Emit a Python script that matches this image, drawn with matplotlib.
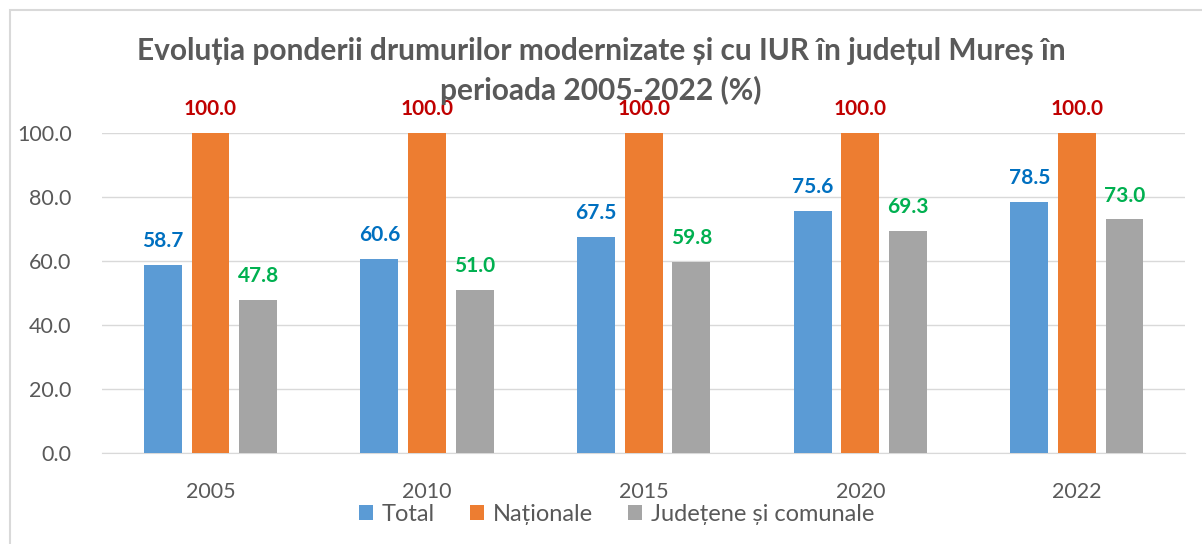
import matplotlib.pyplot as plt
import matplotlib.patches as mpatches
import numpy as np

years = ['2005', '2010', '2015', '2020', '2022']
total = [58.7, 60.6, 67.5, 75.6, 78.5]
nationale = [100.0, 100.0, 100.0, 100.0, 100.0]
judetene = [47.8, 51.0, 59.8, 69.3, 73.0]

series_names = ['Total', 'Naționale', 'Județene și comunale']
bar_colors = ['#5B9BD5', '#ED7D31', '#A5A5A5']
label_colors = ['#0070C0', '#C00000', '#00B050']

plt.rcParams['font.family'] = ['Lato', 'DejaVu Sans']
text_gray = '#595959'

fig = plt.figure(figsize=(12.02, 5.44), dpi=100)
ax = fig.add_axes([0.085, 0.167, 0.901, 0.5885])

x = np.arange(len(years))
width = 0.175
step = 0.22
for i, (vals, name) in enumerate(zip([total, nationale, judetene], series_names)):
    bars = ax.bar(x + (i - 1) * step, vals, width, color=bar_colors[i], label=name, zorder=3)
    for b, v in zip(bars, vals):
        ax.annotate(f'{v:.1f}', (b.get_x() + b.get_width() / 2, v),
                    xytext=(0, 10), textcoords='offset points',
                    ha='center', va='bottom', fontsize=15, fontweight='bold',
                    color=label_colors[i])

ax.set_xlim(-0.5, len(years) - 0.5)
ax.set_ylim(0, 100)
ax.set_yticks(np.arange(0, 101, 20))
ax.set_yticklabels([f'{t:.1f}' for t in np.arange(0, 101, 20)])
ax.set_xticks(x)
ax.set_xticklabels(years)
ax.tick_params(length=0, labelsize=15.5, colors=text_gray)
ax.tick_params(axis='y', pad=22)
ax.tick_params(axis='x', pad=21)
ax.grid(axis='y', color='#D9D9D9', linewidth=1, zorder=0)
for s in ['top', 'right', 'left']:
    ax.spines[s].set_visible(False)
ax.spines['bottom'].set_color('#D9D9D9')

# title sits partly over the 100.0 labels, like in the original
fig.text(0.5, 0.906, 'Evoluția ponderii drumurilor modernizate și cu IUR în județul Mureș în',
         ha='center', va='center', fontsize=21.5, fontweight='bold', color=text_gray)
fig.text(0.5, 0.834, 'perioada 2005-2022 (%)',
         ha='center', va='center', fontsize=21.5, fontweight='bold', color=text_gray)

fig.legend(loc='center', bbox_to_anchor=(0.513, 0.055), ncol=3, frameon=False,
           fontsize=17, labelcolor=text_gray, handlelength=0.6, handleheight=0.6,
           handletextpad=0.35, columnspacing=1.5)

fig.patches.append(mpatches.Rectangle((10 / 1202, -0.1), 1.2, 1.1 - 10 / 544,
                                      transform=fig.transFigure, fill=False,
                                      edgecolor='#D9D9D9', linewidth=1.5))

fig.savefig('out.png', dpi=100)
